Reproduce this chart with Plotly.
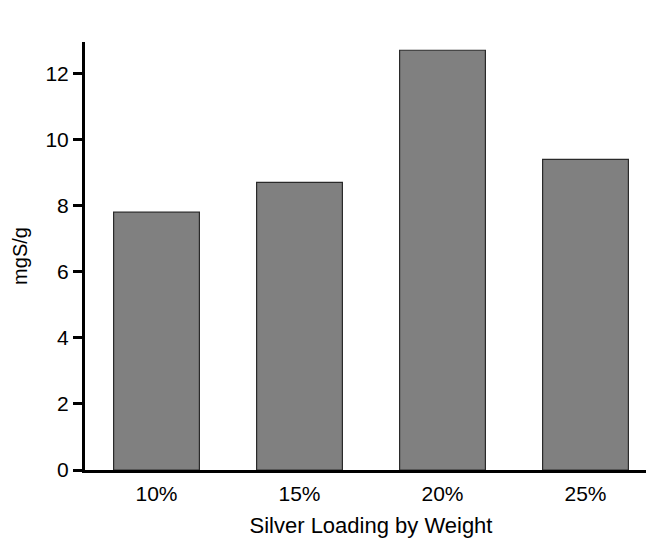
import plotly.graph_objects as go

categories = ["10%", "15%", "20%", "25%"]
values = [7.8, 8.7, 12.7, 9.4]
y_ticks = [0, 2, 4, 6, 8, 10, 12]

fig = go.Figure()
fig.add_trace(go.Bar(
    x=categories, y=values, width=0.6,
    marker=dict(color="#808080", line=dict(color="#2a2a2a", width=1.2)),
))

font = dict(family="Liberation Sans, Arial, sans-serif", size=21, color="black")
fig.update_layout(
    width=649, height=532,
    margin=dict(l=77, r=0, t=34, b=70),
    paper_bgcolor="white", plot_bgcolor="white",
    font=font, showlegend=False,
    xaxis=dict(
        range=[-0.5, 3.5], showline=True, linecolor="black", linewidth=3,
        ticks="outside", ticklen=3, tickcolor="rgba(0,0,0,0)",
        showgrid=False, zeroline=False,
        title=dict(text="Silver Loading by Weight", font=dict(size=22), standoff=14),
        tickfont=dict(size=21),
    ),
    yaxis=dict(
        range=[0, 12.95], showline=True, linecolor="black", linewidth=3,
        ticks="outside", ticklen=9, tickwidth=3, tickcolor="black",
        tickvals=y_ticks, showgrid=False, zeroline=False,
        title=dict(text="mgS/g", font=dict(size=20), standoff=13),
        tickfont=dict(size=21),
    ),
)
fig.write_html("out.html")
